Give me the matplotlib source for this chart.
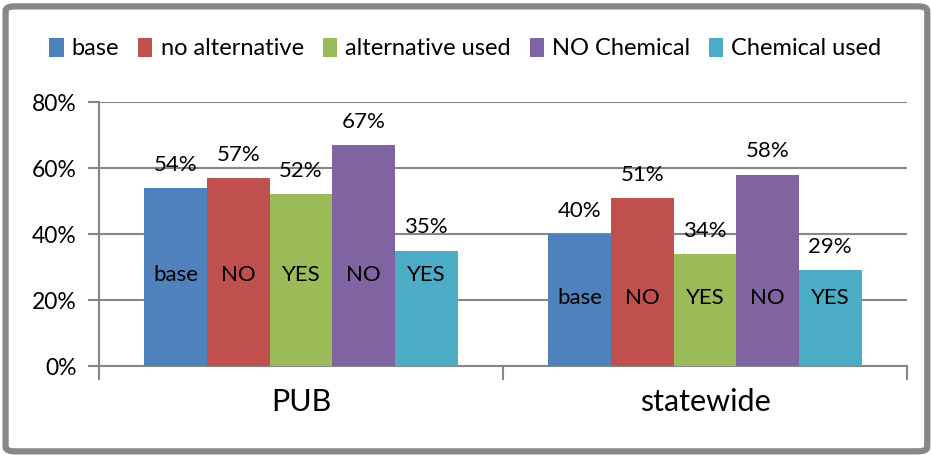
import matplotlib
matplotlib.use('Agg')
import matplotlib.pyplot as plt
from matplotlib.patches import FancyBboxPatch
import numpy as np

plt.rcParams['font.family'] = ['Lato', 'DejaVu Sans']

groups = ['PUB', 'statewide']
series = ['base', 'no alternative', 'alternative used', 'NO Chemical', 'Chemical used']
values = [[54, 40], [57, 51], [52, 34], [67, 58], [35, 29]]
inner_labels = ['base', 'NO', 'YES', 'NO', 'YES']
inner_y = [27.5, 20.5]
colors = ['#4F81BD', '#C0504D', '#9BBB59', '#8064A2', '#4BACC6']
grid_col = '#868686'

fig = plt.figure(figsize=(9.31, 4.55), dpi=100)
ax = fig.add_axes([0.1063, 0.1956, 0.8679, 0.5802])

x = np.arange(len(groups))
w = 0.155
for i, s in enumerate(series):
    pos = x + (i - 2) * w
    ax.bar(pos, values[i], width=w, color=colors[i], label=s, zorder=3)
    for j in range(len(groups)):
        ax.text(pos[j], values[i][j] + 4, '%d%%' % values[i][j], ha='center',
                va='bottom', fontsize=16, zorder=4)
        ax.text(pos[j], inner_y[j], inner_labels[i], ha='center', va='center',
                fontsize=16, zorder=4)

ax.set_xlim(-0.5, 1.5)
ax.set_ylim(0, 80)
ax.set_yticks([0, 20, 40, 60, 80])
ax.set_yticklabels(['%d%%' % v for v in [0, 20, 40, 60, 80]], fontsize=16.5)
ax.yaxis.grid(True, color=grid_col, linewidth=1.5, zorder=0)
ax.set_xticks([-0.5, 0.5, 1.5])
ax.set_xticklabels([])
ax.set_xticks(x, minor=True)
ax.set_xticklabels(groups, minor=True, fontsize=22)
ax.tick_params(axis='x', which='minor', length=0, pad=16)
ax.tick_params(axis='x', which='major', length=10, width=1.5, color=grid_col)
ax.tick_params(axis='y', length=8, width=1.5, color=grid_col, pad=8)
for side in ['top', 'right']:
    ax.spines[side].set_visible(False)
for side in ['left', 'bottom']:
    ax.spines[side].set_color(grid_col)
    ax.spines[side].set_linewidth(1.5)

leg = fig.legend(loc='center', bbox_to_anchor=(0.5, 0.893), ncol=5, frameon=False,
                 fontsize=17, handlelength=0.6, handleheight=0.85, handletextpad=0.35,
                 columnspacing=0.8)

border = FancyBboxPatch((0.006, 0.008), 0.99, 0.978, boxstyle='round,pad=0,rounding_size=0.01',
                        transform=fig.transFigure, facecolor='none', edgecolor='#878787',
                        linewidth=4.5)
fig.patches.append(border)

fig.savefig('out.png', dpi=100)
